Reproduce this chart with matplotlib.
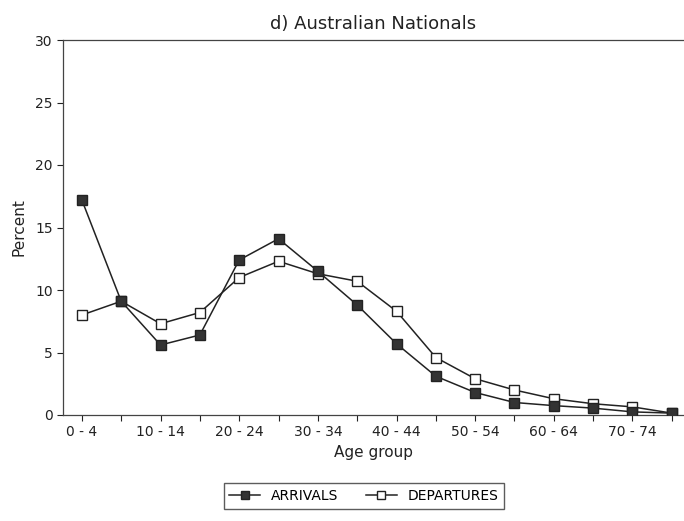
import matplotlib.pyplot as plt
import numpy as np

age_groups = ['0 - 4', '5 - 9', '10 - 14', '15 - 19', '20 - 24', '25 - 29',
              '30 - 34', '35 - 39', '40 - 44', '45 - 49', '50 - 54', '55 - 59',
              '60 - 64', '65 - 69', '70 - 74', '75 - 79']
arrivals = [17.2, 9.1, 5.6, 6.4, 12.4, 14.1, 11.5, 8.8, 5.7, 3.1, 1.8, 1.0,
            0.75, 0.55, 0.25, 0.15]
departures = [8.0, 9.1, 7.3, 8.2, 11.0, 12.3, 11.3, 10.7, 8.3, 4.6, 2.9, 2.0,
              1.3, 0.9, 0.65, 0.15]

fig = plt.figure(figsize=(6.84, 5.21), dpi=100)
ax = fig.add_axes([63/684, 1 - 415/521, 1 - 63/684, 375/521])

x = np.arange(len(age_groups))
ax.plot(x, departures, color='#222222', lw=1.1, marker='s', ms=7,
        mfc='white', mec='#222222', label='DEPARTURES', zorder=2)
ax.plot(x, arrivals, color='#222222', lw=1.1, marker='s', ms=7,
        mfc='#333333', mec='#222222', label='ARRIVALS', zorder=3)

ax.set_xlim(-0.48, 15.31)
ax.set_ylim(0, 30)
ax.set_xticks(x)
ax.set_xticklabels([g if i % 2 == 0 else '' for i, g in enumerate(age_groups)],
                   fontsize=10)
ax.set_yticks([0, 5, 10, 15, 20, 25, 30])
ax.tick_params(axis='y', labelsize=10, length=4, width=0.8, colors='#222222')
ax.tick_params(axis='x', length=4, width=0.8, colors='#222222')
ax.spines['right'].set_visible(False)
for s in ['left', 'top', 'bottom']:
    ax.spines[s].set_color('#444444')
    ax.spines[s].set_linewidth(0.9)

ax.set_title('d) Australian Nationals', fontsize=13, pad=8, color='#222222')
ax.set_ylabel('Percent', fontsize=11, color='#222222', labelpad=6)
ax.set_xlabel('Age group', fontsize=11, color='#222222', labelpad=4)

handles, labels = ax.get_legend_handles_labels()
leg = fig.legend(handles[::-1], labels[::-1], loc='center',
                 bbox_to_anchor=(364/684, 1 - 496/521), ncol=2,
                 fontsize=10, frameon=True, fancybox=False, edgecolor='#333333',
                 handlelength=2.2, columnspacing=2.0, markerscale=0.8)
leg.get_frame().set_linewidth(1.0)

fig.savefig('out.png', dpi=100)
